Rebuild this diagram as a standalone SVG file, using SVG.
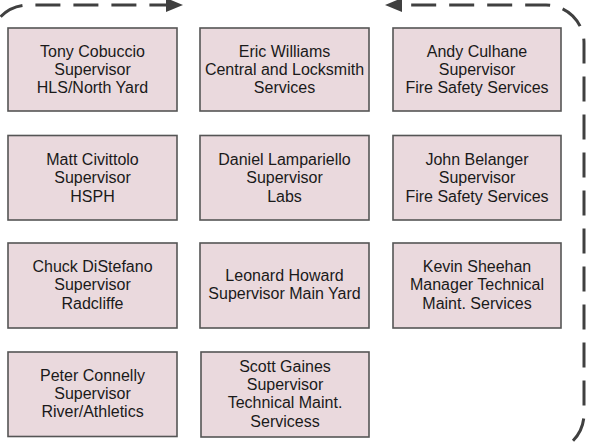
<svg xmlns="http://www.w3.org/2000/svg" width="605" height="444" viewBox="0 0 605 444">
<style>
.box{fill:#EAD9DD;stroke:#555555;stroke-width:1.6}
.t{font-family:"Liberation Sans",Arial,sans-serif;font-size:16px;fill:#1a1a1a;text-anchor:middle}
.dash{fill:none;stroke:#404040;stroke-width:3;stroke-dasharray:25 13}
.ah{fill:#404040}
</style>
<rect width="605" height="444" fill="#ffffff"/>
<g id="connectors">
<path class="dash" d="M -10,90 L -10,43 A 38 38 0 0 1 28,5 L 167,5"/>
<polygon class="ah" points="166,-2 183,5 166,12"/>
<path class="dash" d="M 500,452 L 546,452 A 38 38 0 0 0 584,414 L 584,43 A 38 38 0 0 0 546,5 L 401,5"/>
<polygon class="ah" points="402,-2 385,5 402,12"/>
</g>
<g id="tony"><rect class="box" x="8" y="28" width="169" height="83"/>
<text class="t"><tspan x="92.5" y="56.7">Tony Cobuccio</tspan><tspan x="92.5" y="75">Supervisor</tspan><tspan x="92.5" y="93.3">HLS/North Yard</tspan></text></g>
<g id="eric"><rect class="box" x="200" y="28" width="169" height="83"/>
<text class="t"><tspan x="284.5" y="56.7">Eric Williams</tspan><tspan x="284.5" y="75">Central and Locksmith</tspan><tspan x="284.5" y="93.3">Services</tspan></text></g>
<g id="andy"><rect class="box" x="393" y="28" width="168" height="83"/>
<text class="t"><tspan x="477" y="56.7">Andy Culhane</tspan><tspan x="477" y="75">Supervisor</tspan><tspan x="477" y="93.3">Fire Safety Services</tspan></text></g>
<g id="matt"><rect class="box" x="8" y="135.5" width="169" height="84.5"/>
<text class="t"><tspan x="92.5" y="164.9">Matt Civittolo</tspan><tspan x="92.5" y="183.2">Supervisor</tspan><tspan x="92.5" y="201.5">HSPH</tspan></text></g>
<g id="daniel"><rect class="box" x="200" y="135.5" width="169" height="84.5"/>
<text class="t"><tspan x="284.5" y="164.9">Daniel Lampariello</tspan><tspan x="284.5" y="183.2">Supervisor</tspan><tspan x="284.5" y="201.5">Labs</tspan></text></g>
<g id="john"><rect class="box" x="393" y="135.5" width="168" height="84.5"/>
<text class="t"><tspan x="477" y="164.9">John Belanger</tspan><tspan x="477" y="183.2">Supervisor</tspan><tspan x="477" y="201.5">Fire Safety Services</tspan></text></g>
<g id="chuck"><rect class="box" x="8" y="243" width="169" height="85"/>
<text class="t"><tspan x="92.5" y="272">Chuck DiStefano</tspan><tspan x="92.5" y="290.3">Supervisor</tspan><tspan x="92.5" y="308.6">Radcliffe</tspan></text></g>
<g id="leonard"><rect class="box" x="200" y="243" width="169" height="85"/>
<text class="t"><tspan x="284.5" y="281">Leonard Howard</tspan><tspan x="284.5" y="299.3">Supervisor Main Yard</tspan></text></g>
<g id="kevin"><rect class="box" x="393" y="243" width="168" height="85"/>
<text class="t"><tspan x="477" y="272">Kevin Sheehan</tspan><tspan x="477" y="290.3">Manager Technical</tspan><tspan x="477" y="308.6">Maint. Services</tspan></text></g>
<g id="peter"><rect class="box" x="8" y="352" width="169" height="84.5"/>
<text class="t"><tspan x="92.5" y="380.6">Peter Connelly</tspan><tspan x="92.5" y="398.9">Supervisor</tspan><tspan x="92.5" y="417.2">River/Athletics</tspan></text></g>
<g id="scott"><rect class="box" x="201" y="352" width="168" height="85"/>
<text class="t"><tspan x="285" y="371.7">Scott Gaines</tspan><tspan x="285" y="390">Supervisor</tspan><tspan x="285" y="408.3">Technical Maint.</tspan><tspan x="285" y="426.6">Servicess</tspan></text></g>
</svg>
